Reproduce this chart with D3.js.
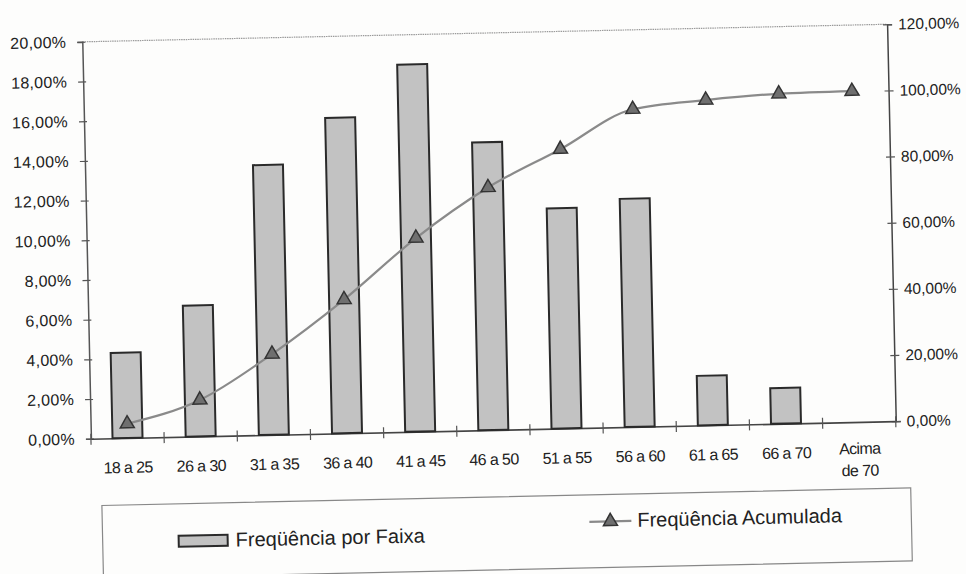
<!DOCTYPE html>
<html>
<head>
<meta charset="utf-8">
<script src="https://cdn.jsdelivr.net/npm/d3@7"></script>
<style>
  html, body { margin: 0; padding: 0; background: #fdfdfc; }
  svg { display: block; }
  text { font-family: "Liberation Sans", Arial, sans-serif; fill: #222; }
</style>
</head>
<body>
<svg id="chart" width="966" height="574"></svg>
<script>
// ---- data ----
const categories = ["18 a 25", "26 a 30", "31 a 35", "36 a 40", "41 a 45", "46 a 50",
                    "51 a 55", "56 a 60", "61 a 65", "66 a 70", "Acima de 70"];
const freqPorFaixa = [4.3, 6.6, 13.6, 15.9, 18.5, 14.5, 11.1, 11.5, 2.5, 1.8, 0];
const freqAcumulada = [4.3, 11.0, 24.4, 40.4, 58.5, 73.3, 84.4, 96.0, 98.3, 99.7, 100];
const leftTicks = [0, 2, 4, 6, 8, 10, 12, 14, 16, 18, 20];
const rightTicks = [0, 20, 40, 60, 80, 100, 120];
const legendLabels = ["Freqüência por Faixa", "Freqüência Acumulada"];

// ---- layout ----
const svg = d3.select("#chart");
const plot = { left: 86.5, right: 891.5, top: 33, bottom: 430 };
const root = svg.append("g").attr("transform", "rotate(-1.25,489,231)");

const x = d3.scaleBand().domain(categories).range([plot.left, plot.right]).padding(0);
const yL = d3.scaleLinear().domain([0, 20]).range([plot.bottom, plot.top]);
const yR = d3.scaleLinear().domain([0, 120]).range([plot.bottom, plot.top]);
const pct = v => d3.format(".2f")(v).replace(".", ",") + "%";

// plot top border (thin dotted gray)
root.append("line")
  .attr("x1", plot.left).attr("x2", plot.right)
  .attr("y1", plot.top).attr("y2", plot.top)
  .attr("stroke", "#9a9a9a").attr("stroke-width", 1.2).attr("stroke-dasharray", "1.5,0.8");

// left axis
const axL = root.append("g").attr("transform", `translate(${plot.left},0)`)
  .call(d3.axisLeft(yL).tickValues(leftTicks).tickFormat(pct).tickSize(5).tickPadding(11));
axL.select(".domain").attr("stroke", "#555").attr("stroke-width", 1.5);
axL.selectAll(".tick line").attr("x2", -5).attr("x1", 3).attr("stroke", "#555").attr("stroke-width", 1.2);
axL.selectAll(".tick text").style("font-size", "16px").style("font-family", "Liberation Sans, Arial, sans-serif").attr("fill", "#222").style("letter-spacing", "0.3px");

// right axis
const axR = root.append("g").attr("transform", `translate(${plot.right},0)`)
  .call(d3.axisRight(yR).tickValues(rightTicks).tickFormat(pct).tickSize(5).tickPadding(6));
axR.select(".domain").attr("stroke", "#444").attr("stroke-width", 1.5);
axR.selectAll(".tick line").attr("x1", -4).attr("x2", 5).attr("stroke", "#555").attr("stroke-width", 1.2);
axR.selectAll(".tick text").style("font-size", "15.5px").style("font-family", "Liberation Sans, Arial, sans-serif").attr("fill", "#222");

// bottom axis
const axB = root.append("g").attr("transform", `translate(0,${plot.bottom})`)
  .call(d3.axisBottom(x).tickSize(0).tickFormat(""));
axB.select(".domain").attr("stroke", "#444").attr("stroke-width", 1.6);
// category boundary ticks
const bounds = categories.map(c => x(c)).concat([plot.right]);
root.append("g").selectAll("line").data(bounds).join("line")
  .attr("x1", d => d).attr("x2", d => d)
  .attr("y1", plot.bottom - 5).attr("y2", plot.bottom + 6)
  .attr("stroke", "#555").attr("stroke-width", 1.2);
// category labels
const lbl = root.append("g").selectAll("text").data(categories).join("text")
  .attr("x", d => x(d) + x.bandwidth() / 2)
  .attr("y", plot.bottom + 35)
  .attr("text-anchor", "middle")
  .style("font-size", "16px")
  .style("letter-spacing", "-0.6px");
lbl.each(function(d) {
  const words = d === "Acima de 70" ? ["Acima", "de 70"] : [d];
  const t = d3.select(this);
  words.forEach((w, i) => {
    t.append("tspan").attr("x", x(d) + x.bandwidth() / 2).attr("dy", i === 0 ? (words.length > 1 ? -3 : 0) : 22).text(w);
  });
});

// bars
const barW = 30;
root.append("g").selectAll("rect").data(categories.filter((c, i) => freqPorFaixa[i] > 0)).join("rect")
  .attr("x", d => x(d) + x.bandwidth() / 2 - barW / 2)
  .attr("y", d => yL(freqPorFaixa[categories.indexOf(d)]))
  .attr("width", barW)
  .attr("height", d => plot.bottom - yL(freqPorFaixa[categories.indexOf(d)]))
  .attr("fill", "#c2c2c2")
  .attr("stroke", "#2a2a2a")
  .attr("stroke-width", 2);

// cumulative line
const pts = categories.map((c, i) => [x(c) + x.bandwidth() / 2, yR(freqAcumulada[i])]);
root.append("path")
  .attr("d", d3.line().curve(d3.curveMonotoneX)(pts))
  .attr("fill", "none").attr("stroke", "#8a8a8a").attr("stroke-width", 2.2);
const tri = d3.symbol().type(d3.symbolTriangle).size(85);
root.append("g").selectAll("path").data(pts).join("path")
  .attr("transform", d => `translate(${d[0]},${d[1]})`)
  .attr("d", tri)
  .attr("fill", "#6f6f6f").attr("stroke", "#333").attr("stroke-width", 1.5);

// legend
const leg = root.append("g");
leg.append("rect")
  .attr("x", 96).attr("y", 497).attr("width", 809).attr("height", 73)
  .attr("fill", "none").attr("stroke", "#888").attr("stroke-width", 1.2);
leg.append("rect")
  .attr("x", 172).attr("y", 529).attr("width", 49).attr("height", 11)
  .attr("fill", "#c2c2c2").attr("stroke", "#2a2a2a").attr("stroke-width", 2);
leg.append("text").attr("x", 229).attr("y", 541).style("font-size", "20px").text(legendLabels[0]);
leg.append("line").attr("x1", 583).attr("x2", 625).attr("y1", 524).attr("y2", 524)
  .attr("stroke", "#8a8a8a").attr("stroke-width", 2.2);
leg.append("path").attr("transform", "translate(604,524)").attr("d", tri)
  .attr("fill", "#6f6f6f").attr("stroke", "#333").attr("stroke-width", 1.5);
leg.append("text").attr("x", 631).attr("y", 530).style("font-size", "20px").text(legendLabels[1]);
</script>
</body>
</html>
